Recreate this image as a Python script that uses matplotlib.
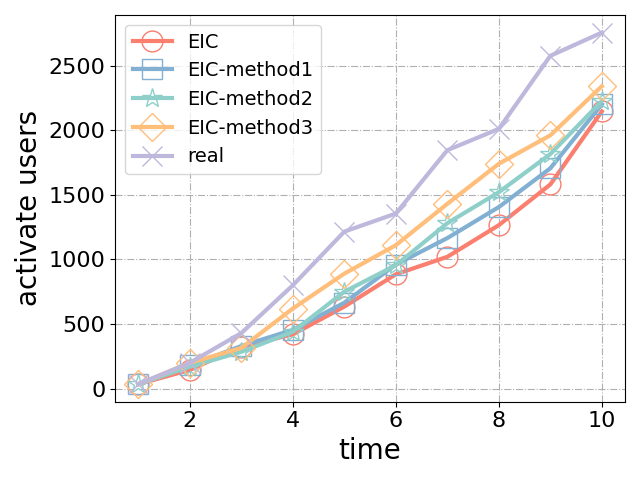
import matplotlib
matplotlib.use('Agg')
import matplotlib.pyplot as plt

time = [1, 2, 3, 4, 5, 6, 7, 8, 9, 10]
eic = [35, 145, 325, 420, 635, 885, 1020, 1265, 1580, 2145]
eic_m1 = [35, 180, 330, 455, 665, 960, 1165, 1405, 1705, 2200]
eic_m2 = [35, 170, 285, 440, 750, 955, 1280, 1520, 1815, 2225]
eic_m3 = [35, 200, 315, 620, 890, 1110, 1430, 1740, 1960, 2340]
real = [35, 200, 430, 800, 1215, 1355, 1845, 2010, 2575, 2755]

series = [
    (eic, 'EIC', '#FA7F6F', 'o'),
    (eic_m1, 'EIC-method1', '#82B0D2', 's'),
    (eic_m2, 'EIC-method2', '#8ECFC9', '*'),
    (eic_m3, 'EIC-method3', '#FFBE7A', 'D'),
    (real, 'real', '#BEB8DC', 'x'),
]

fig, ax = plt.subplots(figsize=(6.4, 4.8))
for vals, name, col, mk in series:
    ms = 15 if mk != 'D' else 14
    ax.plot(time, vals, color=col, linewidth=3, marker=mk, markersize=ms,
            fillstyle='none', markeredgewidth=1, label=name)

ax.grid(linestyle='-.')
ax.set_xlabel('time', fontsize=20)
ax.set_ylabel('activate users', fontsize=20)
ax.tick_params(labelsize=16)
ax.legend(fontsize=14, loc='upper left')
plt.tight_layout()
plt.savefig('out.png')
